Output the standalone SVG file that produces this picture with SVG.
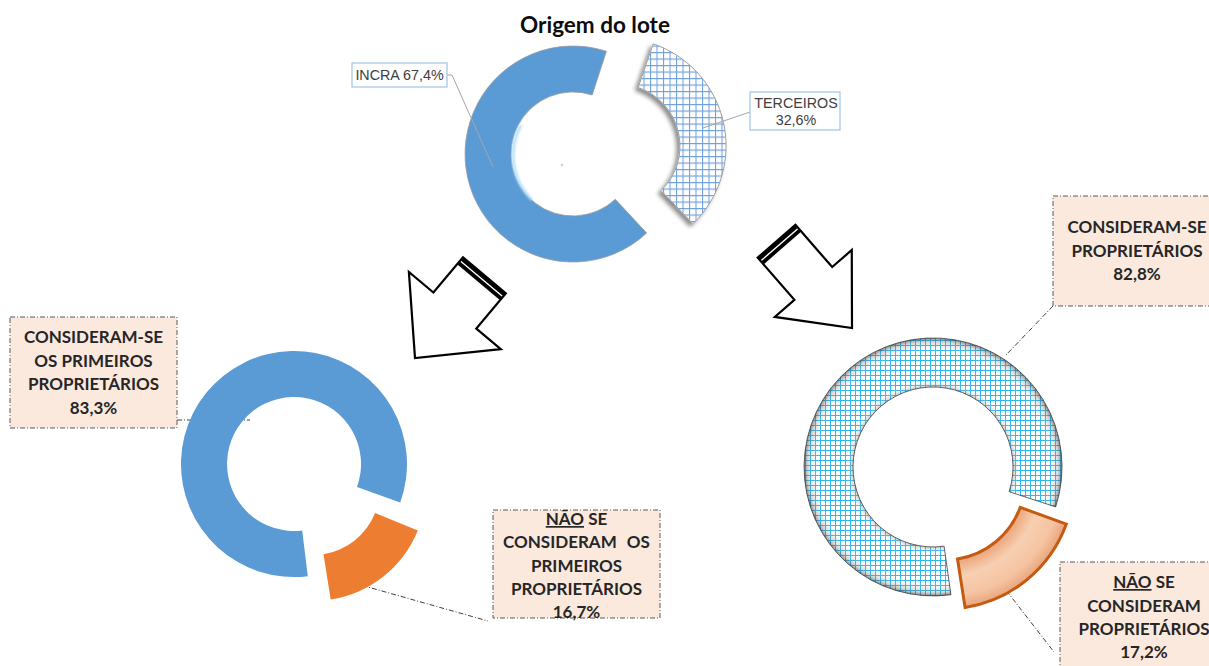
<svg xmlns="http://www.w3.org/2000/svg" width="1209" height="666" viewBox="0 0 1209 666">
<defs>
<style>
.lbl{font-family:Lato,"Open Sans","Liberation Sans",sans-serif;font-weight:bold;font-size:17px;fill:#262626;text-anchor:middle}
.sm{font-family:"Liberation Sans",Arial,sans-serif;font-size:14.3px;fill:#404040;text-anchor:middle}
.box{fill:#FCE9DE;stroke:#595959;stroke-width:1;stroke-dasharray:5 2 1 2}
.lead{fill:none;stroke:#404040;stroke-width:1;stroke-dasharray:5 2 1 2}
.tbox{fill:#fff;stroke:#9DC3E6;stroke-width:1.2}
.tlead{fill:none;stroke:#A6A6A6;stroke-width:1}
.arrow{fill:#fff;stroke:#000;stroke-width:2.2;stroke-linejoin:miter}
</style>
<pattern id="gridB" width="6.5" height="6.5" patternUnits="userSpaceOnUse">
<path d="M0 0.5H6.5M0.5 0V6.5" stroke="#6FA0DC" stroke-width="1.1" fill="none"/>
</pattern>
<pattern id="gridC" width="5" height="5" patternUnits="userSpaceOnUse">
<path d="M0 0.5H5M0.5 0V5" stroke="#2CB8F0" stroke-width="1" fill="none"/>
</pattern>
<radialGradient id="shadeR" gradientUnits="userSpaceOnUse" cx="933" cy="467" r="129">
<stop offset="0.6" stop-color="#5e5e5e" stop-opacity="0.55"/>
<stop offset="0.68" stop-color="#ffffff" stop-opacity="0"/>
<stop offset="0.88" stop-color="#ffffff" stop-opacity="0"/>
<stop offset="0.97" stop-color="#7a7a7a" stop-opacity="0.3"/>
<stop offset="1" stop-color="#3a3a3a" stop-opacity="0.6"/>
</radialGradient>
<radialGradient id="shadeO" gradientUnits="userSpaceOnUse" cx="945" cy="480" r="129">
<stop offset="0.62" stop-color="#E9A47A"/>
<stop offset="0.75" stop-color="#F8CFB2"/>
<stop offset="0.9" stop-color="#F5C4A2"/>
<stop offset="1" stop-color="#E8A57C"/>
</radialGradient>
<filter id="shadow" x="-20%" y="-20%" width="140%" height="140%">
<feGaussianBlur in="SourceAlpha" stdDeviation="2"/>
<feOffset dx="-3" dy="3"/>
<feComponentTransfer><feFuncA type="linear" slope="0.45"/></feComponentTransfer>
<feMerge><feMergeNode/><feMergeNode in="SourceGraphic"/></feMerge>
</filter>
<filter id="blur1"><feGaussianBlur stdDeviation="1.2"/></filter>
</defs>
<rect width="1209" height="666" fill="#fff"/>

<text x="595" y="33" style="font-family:Lato,'Open Sans',sans-serif;font-weight:bold;font-size:22.5px;fill:#0d0d0d;text-anchor:middle">Origem do lote</text>

<g id="top-chart">
<g id="incra-slice">
<path d="M646.7,233 A108 108 0 1 1 606.4,51.3 L592.2,95 A62 62 0 1 0 615.3,199.3 Z" fill="#5B9BD5" stroke="#9a9a9a" stroke-width="0.8"/>
<path d="M521,125 A62 62 0 0 0 532,200" fill="none" stroke="#A9DDFB" stroke-width="3" filter="url(#blur1)" opacity="0.9"/>
</g>
<g id="terceiros-slice" filter="url(#shadow)">
<path d="M653.2,43.8 A108 108 0 0 1 693,223.7 L661.1,190.6 A62 62 0 0 0 638.2,87.4 Z" fill="#fff"/>
<path d="M653.2,43.8 A108 108 0 0 1 693,223.7 L661.1,190.6 A62 62 0 0 0 638.2,87.4 Z" fill="url(#gridB)" stroke="#A0A0A0" stroke-width="1"/>
</g>
<circle cx="562" cy="165" r="1.3" fill="#d0d0d0"/>
</g>

<g id="connectors">
<path class="tlead" d="M447,75 L452,75 L493,167"/>
<path class="tlead" d="M750,112 L703,128"/>
<path class="lead" d="M177,420 L250,420"/>
<path class="lead" d="M343,580 L488,621"/>
<path class="lead" d="M1053,306 L1006,355"/>
<path class="lead" d="M988,567 L1054,652"/>
</g>

<g id="label-incra">
<rect class="tbox" x="352" y="63" width="95" height="24"/>
<text class="sm" x="399.5" y="80">INCRA 67,4%</text>
</g>
<g id="label-terceiros">
<rect class="tbox" x="750" y="92" width="90" height="38"/>
<text class="sm" x="796" y="108">TERCEIROS</text>
<text class="sm" x="796" y="125">32,6%</text>
</g>

<g id="arrow-left" transform="translate(415,358) rotate(130) translate(-108,0)">
<polygon class="arrow" points="0,-28 46,-28 46,-60 108,0 46,60 46,28 0,28"/>
<rect x="0" y="-28" width="3.8" height="56" fill="#000"/>
<rect x="5.2" y="-28" width="3.8" height="56" fill="#000"/>
</g>
<g id="arrow-right" transform="translate(852,328) rotate(49) translate(-115,0)">
<polygon class="arrow" points="0,-25 56,-25 56,-51 115,0 56,51 56,25 0,25"/>
<rect x="0" y="-25" width="3.8" height="50" fill="#000"/>
<rect x="5.2" y="-25" width="3.8" height="50" fill="#000"/>
</g>

<g id="left-chart">
<path id="left-blue" d="M307.8,576.2 A113 113 0 1 1 400.2,502.6 L357,486.9 A67 67 0 1 0 302.2,530.5 Z" fill="#5B9BD5"/>
<path id="left-orange" d="M417.8,530.4 A113 113 0 0 1 330.7,599.6 L323.5,554.2 A67 67 0 0 0 375.1,513.1 Z" fill="#ED7D31"/>
</g>

<g id="right-chart">
<g id="right-hatched">
<path d="M950.9,594.7 A129 129 0 1 1 1055.7,506.9 L1009.1,491.7 A80 80 0 1 0 944.1,546.2 Z" fill="#fff"/>
<path d="M950.9,594.7 A129 129 0 1 1 1055.7,506.9 L1009.1,491.7 A80 80 0 1 0 944.1,546.2 Z" fill="url(#gridC)"/>
<path d="M950.9,594.7 A129 129 0 1 1 1055.7,506.9 L1009.1,491.7 A80 80 0 1 0 944.1,546.2 Z" fill="url(#shadeR)" stroke="#404040" stroke-width="0.8"/>
</g>
<path id="right-orange" d="M1066.3,524.1 A129 129 0 0 1 965.1,607.5 L957.5,559 A80 80 0 0 0 1020.2,507.4 Z" fill="url(#shadeO)" stroke="#C55A11" stroke-width="3" stroke-linejoin="miter"/>
</g>

<g id="label-left-yes">
<rect class="box" x="10" y="317" width="167" height="111"/>
<text class="lbl" x="93.5" y="343">CONSIDERAM-SE</text>
<text class="lbl" x="93.5" y="366.5">OS PRIMEIROS</text>
<text class="lbl" x="93.5" y="390">PROPRIETÁRIOS</text>
<text class="lbl" x="93.5" y="413.5">83,3%</text>
</g>
<g id="label-left-no">
<rect class="box" x="493" y="510" width="167" height="108"/>
<text class="lbl" x="576.5" y="525"><tspan text-decoration="underline">NÃO</tspan> SE</text>
<text class="lbl" x="576.5" y="548" word-spacing="6">CONSIDERAM OS</text>
<text class="lbl" x="576.5" y="571.5">PRIMEIROS</text>
<text class="lbl" x="576.5" y="595">PROPRIETÁRIOS</text>
<text class="lbl" x="576.5" y="618">16,7%</text>
</g>
<g id="label-right-yes">
<rect class="box" x="1053" y="196" width="170" height="110"/>
<text class="lbl" x="1137" y="233">CONSIDERAM-SE</text>
<text class="lbl" x="1137" y="257">PROPRIETÁRIOS</text>
<text class="lbl" x="1137" y="280">82,8%</text>
</g>
<g id="label-right-no">
<rect class="box" x="1060" y="562" width="170" height="120"/>
<text class="lbl" x="1144" y="588"><tspan text-decoration="underline">NÃO</tspan> SE</text>
<text class="lbl" x="1144" y="611.5">CONSIDERAM</text>
<text class="lbl" x="1144" y="635">PROPRIETÁRIOS</text>
<text class="lbl" x="1144" y="658">17,2%</text>
</g>
</svg>
